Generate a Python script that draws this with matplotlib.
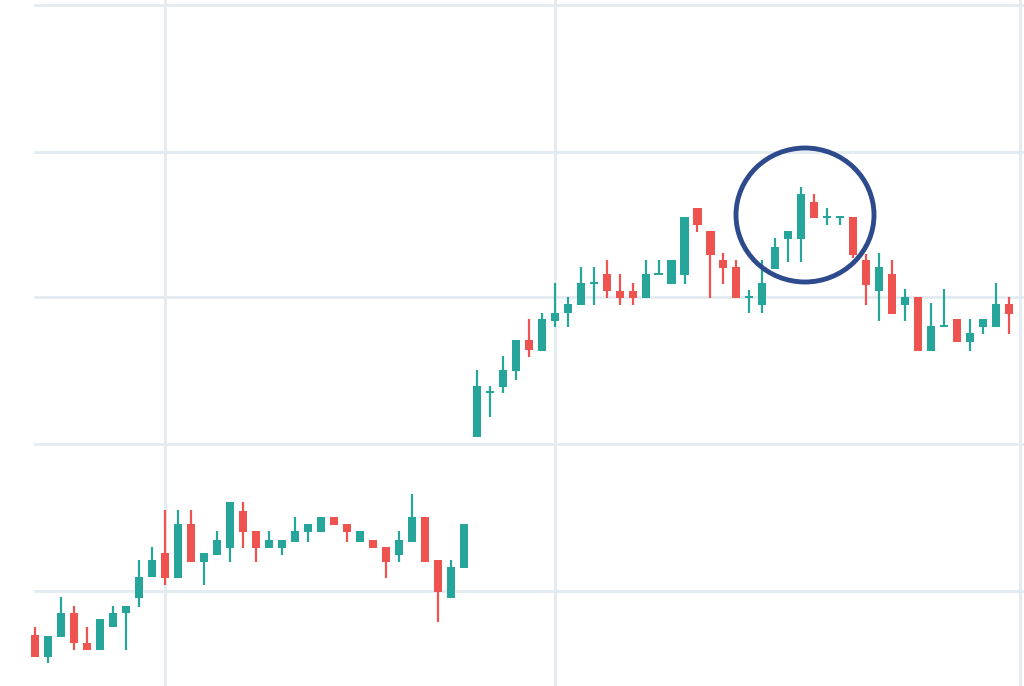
import matplotlib
matplotlib.use("Agg")
import matplotlib.pyplot as plt
from matplotlib.patches import Ellipse, Rectangle

# Prices (screen readings; price = BASE - reading)
# Each entry: (open, high, low, close)
raw = [
 (635,627,657,657),(657,636,663,636),(637,597,637,613),(613,606,650,643),(643,627,650,650),
 (650,619,650,619),(627,606,627,613),(613,606,650,606),(598,560,607,577),(577,547,577,560),
 (553,510,585,578),(578,510,578,524),(524,510,562,562),(562,553,585,553),(555,531,555,540),
 (548,502,562,502),(511,502,548,532),(531,531,562,548),(548,531,548,540),(548,540,555,540),
 (542,517,542,531),(532,524,542,524),(532,517,532,517),(517,517,525,525),(524,524,542,532),
 (542,531,542,531),(540,540,548,548),(547,547,578,562),(555,531,562,540),(542,494,542,517),
 (517,517,562,562),(560,560,622,592),(598,560,598,567),(568,524,568,524),(437,370,437,386),
 (393,386,417,392),(387,356,393,370),(371,340,380,340),(340,319,357,350),(351,313,351,319),
 (321,283,327,313),(313,297,327,304),(305,267,305,283),(284,267,305,283),(274,260,298,291),
 (291,274,305,298),(291,283,305,298),(298,260,298,274),(275,260,275,274),(284,260,284,260),
 (275,217,284,217),(208,208,232,225),(231,231,298,255),(260,253,284,268),(267,260,298,298),
 (298,290,313,297),(305,260,313,283),(269,238,269,247),(239,231,262,231),(239,187,262,194),
 (202,194,218,218),(218,208,225,217),(218,217,225,217),(217,217,258,255),(260,254,305,285),
 (291,253,321,267),(274,260,314,314),(305,289,321,297),(297,297,351,351),(351,303,351,326),
 (327,289,327,326),(319,319,342,342),(342,319,351,333),(327,319,334,319),(327,283,327,304),
 (304,297,334,314),
]
BASE = 700
opens = [BASE - r[0] for r in raw]
highs = [BASE - r[1] for r in raw]
lows = [BASE - r[2] for r in raw]
closes = [BASE - r[3] for r in raw]

up_c, dn_c = "#26a69a", "#ef5350"
fig = plt.figure(figsize=(10.24, 6.86), dpi=100)
ax = fig.add_axes([0, 0, 1, 1])
ax.set_xlim(-35/12.99, (1024-35)/12.99)
ax.set_ylim(BASE-686, BASE)
for y in [5, 152, 297, 444, 591]:
    ax.axhline(BASE - y, xmin=35/1024, color="#e3ebf1", lw=2, zorder=0)
for x in [165, 555, 1020]:
    ax.axvline((x-35)/12.99, color="#e3ebf1", lw=2, zorder=0)
w = 0.62
for i, (o, h, l, c) in enumerate(zip(opens, highs, lows, closes)):
    col = up_c if c >= o else dn_c
    ax.vlines(i, l, h, color=col, lw=1.6, zorder=2)
    bot, top = min(o, c), max(o, c)
    ax.add_patch(Rectangle((i - w/2, bot), w, max(top-bot, 2), color=col, zorder=3, lw=0))
ax.add_patch(Ellipse(((805-35)/12.99, BASE-215), 138/12.99, 134, fill=False,
                     edgecolor="#2c4a8c", lw=3.5, zorder=4))
ax.axis("off")
fig.savefig("out.png", dpi=100)
